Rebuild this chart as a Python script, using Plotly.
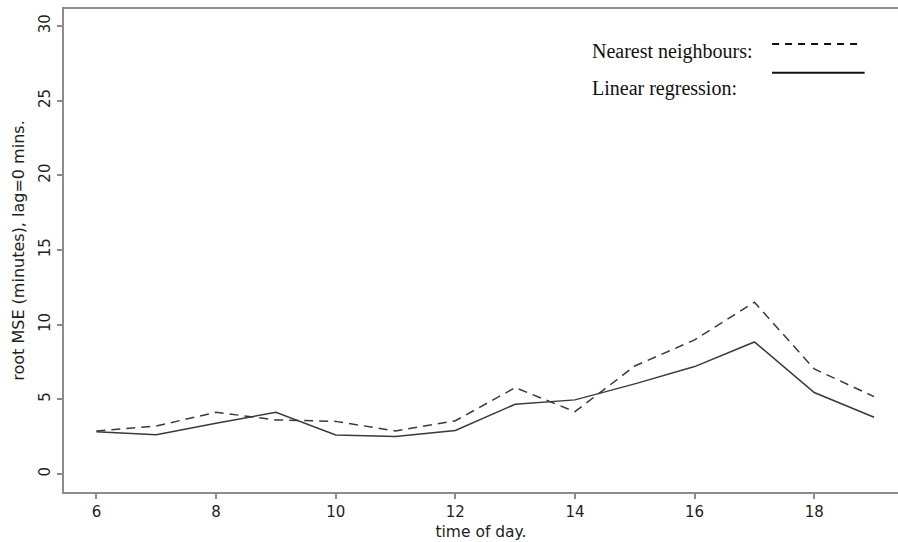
import plotly.graph_objects as go

# hour of day
hours = [6, 7, 8, 9, 10, 11, 12, 13, 14, 15, 16, 17, 18, 19]
# root MSE in minutes, lag = 0
nearest_neighbours = [2.88, 3.21, 4.13, 3.62, 3.52, 2.88, 3.56, 5.78, 4.17, 7.23, 8.98, 11.5, 7.03, 5.18]
linear_regression = [2.83, 2.63, 3.40, 4.13, 2.61, 2.50, 2.91, 4.67, 4.96, 6.03, 7.19, 8.84, 5.45, 3.80]

x_ticks = [6, 8, 10, 12, 14, 16, 18]
y_ticks = [0, 5, 10, 15, 20, 25, 30]

LINE = "#3a3a3a"
AXIS = "#8c8c8c"
SANS = "DejaVu Sans, Verdana, sans-serif"
SERIF = "Liberation Serif, Times New Roman, serif"
TEXT = "#1e1e1e"

fig = go.Figure()
fig.add_trace(go.Scatter(
    x=hours, y=nearest_neighbours, mode="lines",
    line=dict(color=LINE, width=1.5, dash="9px,6px"),
    name="Nearest neighbours",
))
fig.add_trace(go.Scatter(
    x=hours, y=linear_regression, mode="lines",
    line=dict(color=LINE, width=1.5),
    name="Linear regression",
))

axis_common = dict(
    showgrid=False, zeroline=False, showline=True, linecolor=AXIS, linewidth=2,
    ticks="outside", ticklen=5, tickwidth=1.5, tickcolor=AXIS,
    tickfont=dict(family=SANS, size=15, color=TEXT),
)

fig.update_layout(
    width=898, height=542,
    margin=dict(l=64, r=0, t=9, b=50),
    paper_bgcolor="white", plot_bgcolor="white",
    showlegend=False,
    xaxis=dict(
        range=[5.458, 19.40], tickvals=x_ticks, mirror=True,
        title=dict(text="time of day.", font=dict(family=SANS, size=15.5, color=TEXT), standoff=6),
        **axis_common,
    ),
    yaxis=dict(
        range=[-1.21, 31.14], tickvals=y_ticks, tickangle=-90, ticklabelstandoff=1,
        title=dict(text="root MSE (minutes), lag=0 mins.", font=dict(family=SANS, size=16, color=TEXT), standoff=7),
        **axis_common,
    ),
)

# key in the upper right corner
fig.add_annotation(xref="paper", yref="paper", x=0.6305, y=0.912, xanchor="left", yanchor="middle",
                   text="Nearest neighbours:", showarrow=False,
                   font=dict(family=SERIF, size=20, color="#111"))
fig.add_annotation(xref="paper", yref="paper", x=0.6305, y=0.836, xanchor="left", yanchor="middle",
                   text="Linear regression:", showarrow=False,
                   font=dict(family=SERIF, size=20, color="#111"))
fig.add_shape(type="line", xref="paper", yref="paper", x0=0.849, x1=0.957, y0=0.9275, y1=0.9275,
              line=dict(color="#111", width=2, dash="7px,6px"))
fig.add_shape(type="line", xref="paper", yref="paper", x0=0.849, x1=0.960, y0=0.868, y1=0.868,
              line=dict(color="#111", width=2))

fig.write_html("out.html")
